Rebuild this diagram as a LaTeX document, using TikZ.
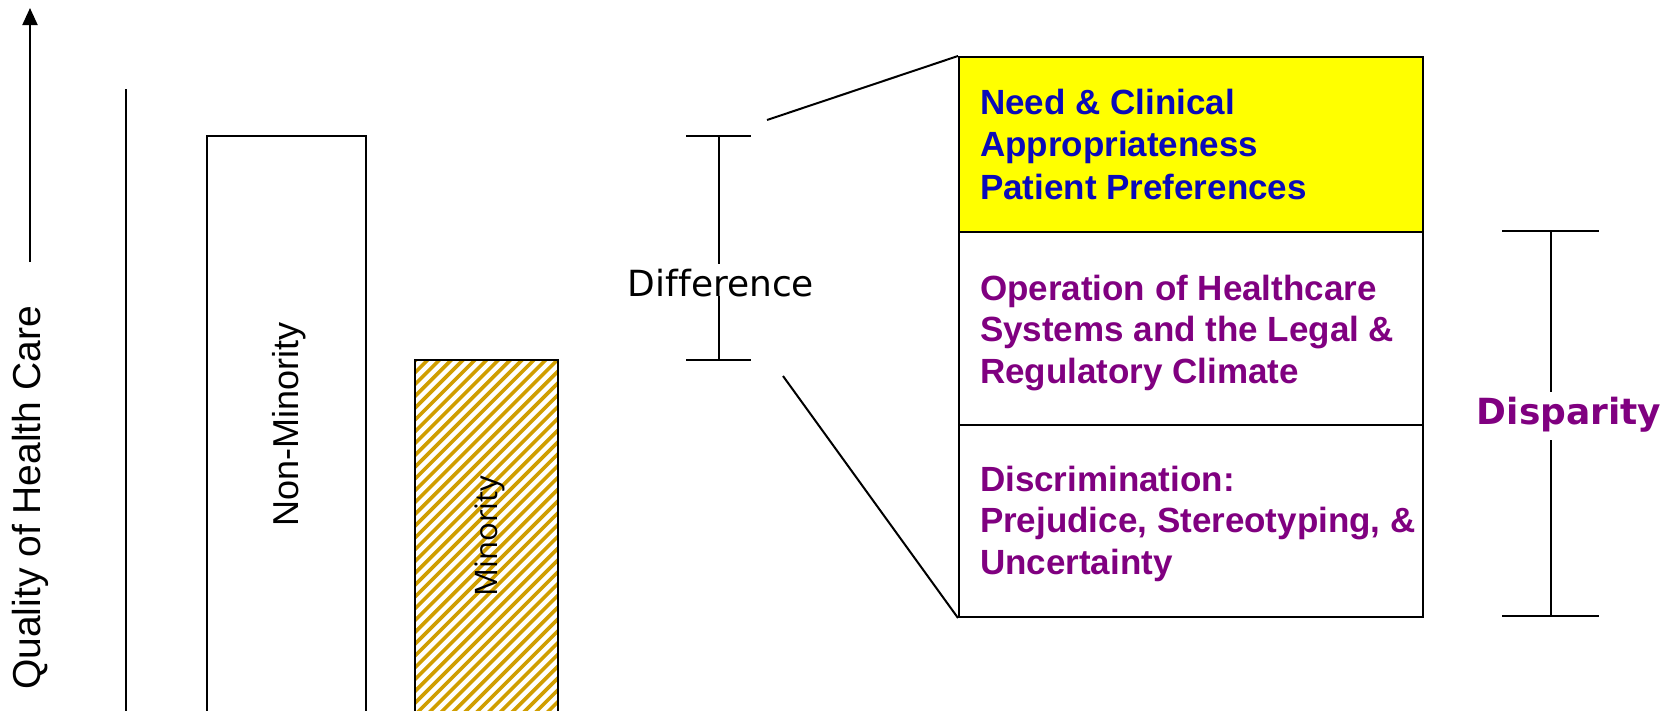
\documentclass[tikz,border=0pt]{standalone}
\usepackage{fontspec}
\setmainfont{Liberation Sans}
\newfontfamily\dejavu[Ligatures=NoCommon]{DejaVu Sans}
\newfontfamily\opensans{Open Sans}
\usetikzlibrary{arrows.meta}
\definecolor{hatchgold}{RGB}{208,158,0}
\definecolor{needblue}{RGB}{10,10,185}
\definecolor{factorpurple}{RGB}{128,0,128}
\definecolor{hiyellow}{RGB}{255,255,0}
\begin{document}
\begin{tikzpicture}[x=1pt,y=-1pt,line width=2pt,
  section/.style={draw=black,line width=2pt,minimum width=464pt,inner sep=0pt,anchor=north west},
  blueline/.style={font=\fontsize{35}{42}\selectfont\bfseries,text=needblue,anchor=base west,inner sep=0pt},
  purpleline/.style={font=\fontsize{35}{42}\selectfont\bfseries,text=factorpurple,anchor=base west,inner sep=0pt},
  vlabel/.style={rotate=90,inner sep=0pt},
  bar/.style={draw=black,line width=2pt}
]
\useasboundingbox (0,0) rectangle (1679,710);

% axis arrow and label
\coordinate (axbot) at (30,262);
\coordinate (axtop) at (30,8);
\draw[-{Triangle[length=17pt,width=15pt]}] (axbot) -- (axtop);
\node[vlabel,font=\fontsize{39}{46}\selectfont] (quality) at (30,498) {Quality of Health Care};

% vertical axis line
\coordinate (vtop) at (126,89);
\coordinate (vbot) at (126,715);
\draw (vtop) -- (vbot);

% Non-minority bar
\draw[bar] (207,715) -- (207,136) -- (366,136) -- (366,715);
\node[vlabel,font=\fontsize{36}{43}\selectfont] (nonmin) at (289,424) {Non-Minority};

% Minority bar (hatched)
\begin{scope}
  \clip (415,360) rectangle (558,715);
  \foreach \k in {0,...,50}
    \draw[hatchgold,line width=3.6pt] ({-10+11.8*\k},715) -- ++(430,-430);
\end{scope}
\draw[bar,line width=1.6pt] (415,715) -- (415,360) -- (558,360) -- (558,715);
\node[vlabel,font=\opensans\fontsize{31}{37}\selectfont] (minority) at (490,536) {Minority};

% Difference bracket
\coordinate (dtl) at (686,136);
\coordinate (dtr) at (751,136);
\coordinate (dbl) at (686,360);
\coordinate (dbr) at (751,360);
\coordinate (dtm) at (718.5,136);
\coordinate (dbm) at (718.5,360);
\coordinate (dg1) at (718.5,264);
\coordinate (dg2) at (718.5,296);
\draw (dtl) -- (dtr);
\draw (dbl) -- (dbr);
\draw (dtm) -- (dg1);
\draw (dg2) -- (dbm);
\node[font=\dejavu\fontsize{36}{43}\selectfont,anchor=base,inner sep=0pt] (diff) at (721,296) {Difference};

% stacked box
\node[section,fill=hiyellow,minimum height=175pt] (secA) at (958,56) {};
\node[section,fill=white,minimum height=193pt] (secB) at (958,231) {};
\node[section,fill=white,minimum height=192pt] (secC) at (958,424) {};

% zoom lines
\coordinate (zl1) at (767,120);
\coordinate (zl2) at (783,376);
\draw (zl1) -- (secA.north west);
\draw (zl2) -- (secC.south west);

% section texts
\node[blueline] (a1) at (979,114) {Need \& Clinical};
\node[blueline] (a2) at (979,156.5) {Appropriateness};
\node[blueline] (a3) at (979,199) {Patient Preferences};
\node[purpleline] (b1) at (979,300) {Operation of Healthcare};
\node[purpleline] (b2) at (979,341.5) {Systems and the Legal \&};
\node[purpleline] (b3) at (979,383) {Regulatory Climate};
\node[purpleline] (c1) at (979,491) {Discrimination:};
\node[purpleline] (c2) at (979,532.5) {Prejudice, Stereotyping, \&};
\node[purpleline] (c3) at (979,574) {Uncertainty};

% Disparity bracket
\coordinate (ptl) at (1502,231);
\coordinate (ptr) at (1599,231);
\coordinate (pbl) at (1502,616);
\coordinate (pbr) at (1599,616);
\coordinate (ptm) at (1550.5,231);
\coordinate (pbm) at (1550.5,616);
\coordinate (pg1) at (1550.5,392);
\coordinate (pg2) at (1550.5,440);
\draw (ptl) -- (ptr);
\draw (pbl) -- (pbr);
\draw (ptm) -- (pg1);
\draw (pg2) -- (pbm);
\node[font=\dejavu\fontsize{36}{43}\selectfont\bfseries,text=factorpurple,anchor=base,inner sep=0pt] (disp) at (1569,424) {Disparity};
\end{tikzpicture}
\end{document}
